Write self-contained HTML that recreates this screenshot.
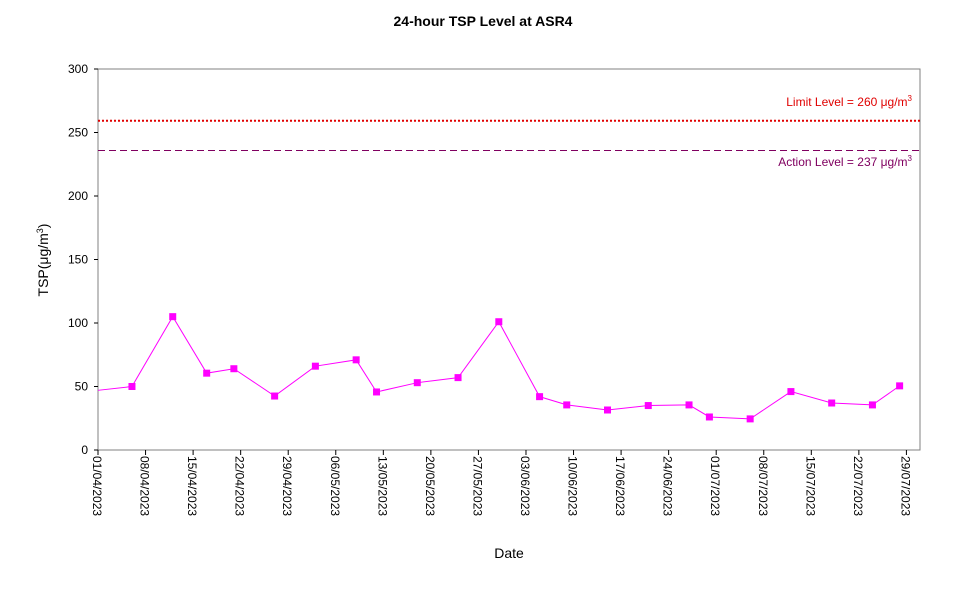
<!DOCTYPE html>
<html><head><meta charset="utf-8"><style>
body{margin:0;background:#fff;font-family:"Liberation Sans",Arial,sans-serif;}
svg text{font-family:"Liberation Sans",Arial,sans-serif;}
</style></head><body>
<svg id="chart" width="967" height="590" xmlns="http://www.w3.org/2000/svg">
<rect width="967" height="590" fill="#fff"/>
<text x="483" y="26" text-anchor="middle" font-size="14" font-weight="bold">24-hour TSP Level at ASR4</text>
<rect x="98" y="69" width="822" height="381" fill="none" stroke="#808080" stroke-width="1"/>
<g id="yaxis"></g>
<g id="xaxis"></g>
<g id="lines"></g>
<g id="series"></g>
<text transform="translate(48,260) rotate(-90)" text-anchor="middle" font-size="14">TSP(μg/m<tspan font-size="9" dy="-5">3</tspan><tspan dy="5">)</tspan></text>
<text x="509" y="558" text-anchor="middle" font-size="14">Date</text>
</svg>
<script>
const dayOffsets=[0,5,11,16,20,26,32,38,41,47,53,59,65,69,75,81,87,90,96,102,108,114,118];
const tspValues=[47,50,105,60.5,64,42.5,66,71,45.7,53,57,101,42,35.5,31.5,35,35.5,26,24.5,46,37,35.5,50.5];
const yTicks=[0,50,100,150,200,250,300];
const xTickLabels=["01/04/2023","08/04/2023","15/04/2023","22/04/2023","29/04/2023","06/05/2023","13/05/2023","20/05/2023","27/05/2023","03/06/2023","10/06/2023","17/06/2023","24/06/2023","01/07/2023","08/07/2023","15/07/2023","22/07/2023","29/07/2023"];
const limitLevel=260, actionLevel=237;
const NS="http://www.w3.org/2000/svg";
const X0=98,X1=920,Y0=450,Y1=69,DAYS=121;
const xs=d=>X0+d*(X1-X0)/DAYS;
const ys=v=>Y0-v*(Y0-Y1)/300;
function mk(t,a,p){const e=document.createElementNS(NS,t);for(const k in a)e.setAttribute(k,a[k]);p.appendChild(e);return e;}
const ya=document.getElementById('yaxis');
yTicks.forEach(v=>{
 const l=mk('line',{x1:94,x2:98,y1:ys(v),y2:ys(v),stroke:'#000'},ya);
 
 
 const t=mk('text',{x:88,y:ys(v)+4,'text-anchor':'end','font-size':12},ya);
 
 
 t.textContent=v;
});
const xa=document.getElementById('xaxis');
xTickLabels.forEach((s,i)=>{
 const x=xs(i*7);
 const l=mk('line',{x1:x,x2:x,y1:450,y2:455,stroke:'#000'},xa);
 
 
 const t=mk('text',{transform:`translate(${x-5},456) rotate(90)`,'font-size':12},xa);
 
 
 t.textContent=s;
});
const lg=document.getElementById('lines');
const ll=mk('line',{x1:X0,x2:X1,y1:ys(limitLevel)+1,y2:ys(limitLevel)+1,stroke:'#e00000','stroke-width':2,'stroke-dasharray':'2,2'},lg);


const al=mk('line',{x1:X0,x2:X1,y1:ys(actionLevel)+1.5,y2:ys(actionLevel)+1.5,stroke:'#800060','stroke-width':1,'stroke-dasharray':'7,4'},lg);


const lt=mk('text',{x:912,y:ys(limitLevel)-14,'text-anchor':'end','font-size':12,fill:'#e00000'},lg);


lt.innerHTML='Limit Level  = '+limitLevel+' μg/m<tspan font-size="8" dy="-5">3</tspan>';
const at=mk('text',{x:912,y:ys(actionLevel)+17,'text-anchor':'end','font-size':12,fill:'#800060'},lg);


at.innerHTML='Action Level  = '+actionLevel+' μg/m<tspan font-size="8" dy="-5">3</tspan>';
const sg=document.getElementById('series');
const pts=dayOffsets.map((d,i)=>xs(d)+','+ys(tspValues[i])).join(' ');
const pl=mk('polyline',{points:pts,fill:'none',stroke:'#ff00ff','stroke-width':1},sg);


dayOffsets.forEach((d,i)=>{
 if(i===0)return;
 const r=mk('rect',{x:xs(d)-3.5,y:ys(tspValues[i])-3.5,width:7,height:7,fill:'#ff00ff'},sg);
 
 
});
</script>
</body></html>
